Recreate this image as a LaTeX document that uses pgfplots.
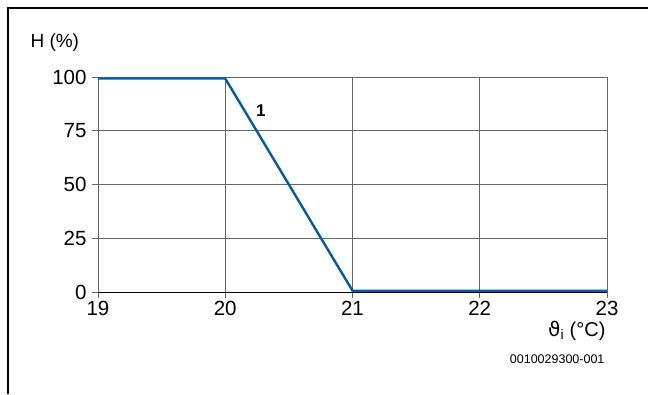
\documentclass[border=0pt]{standalone}
\usepackage{pgfplots}
\pgfplotsset{compat=1.18}
\usepackage{fontspec}
\setmainfont{Liberation Sans}
\newfontfamily\dejavu{DejaVu Sans}
\definecolor{lineblue}{RGB}{0,90,170}
\definecolor{gridgray}{RGB}{100,100,100}
\begin{document}
\begin{tikzpicture}[x=1pt,y=1pt]
\useasboundingbox (0,0) rectangle (648,394);
\draw[line width=2pt] (8,0) -- (8,386) -- (648,386);
\begin{axis}[
  at={(98pt,102pt)}, anchor=south west,
  scale only axis, width=509pt, height=215pt,
  xmin=19, xmax=23, ymin=0, ymax=100,
  xtick={19,20,21,22,23}, ytick={0,25,50,75,100},
  grid=major,
  grid style={gridgray, line width=0.9pt},
  axis line style={gridgray, line width=0.9pt},
  tick style={gridgray, line width=0.9pt},
  tick align=outside, major tick length=6pt,
  xtick pos=bottom, ytick pos=left,
  /pgf/number format/assume math mode=true,
  ticklabel style={font=\fontsize{20.5}{20.5}\selectfont},
  xticklabel style={yshift=0pt},
  yticklabel style={xshift=-2pt},
  clip=false,
]
\addplot[black, line width=0.9pt] coordinates {(19,0) (23,0)};
\addplot[lineblue, line width=2.4pt] coordinates {(19,99.3) (20,99.3) (21,0.6) (23,0.6)};
\node[font=\fontsize{17}{17}\selectfont\bfseries] at (axis cs:20.28,84.4) {1};
\end{axis}
\node[anchor=east, font=\fontsize{19}{19}\selectfont] at (0,0) {};
\node[anchor=base west, font=\fontsize{19}{19}\selectfont] at (27,346) {H (\%)};
\node[anchor=east, font=\fontsize{20}{20}\selectfont] at (609,63) {{\dejavu ϑ}\textsubscript{i} (°C)};
\node[anchor=east, font=\fontsize{12.5}{12.5}\selectfont] at (608,35) {0010029300-001};
\end{tikzpicture}
\end{document}
